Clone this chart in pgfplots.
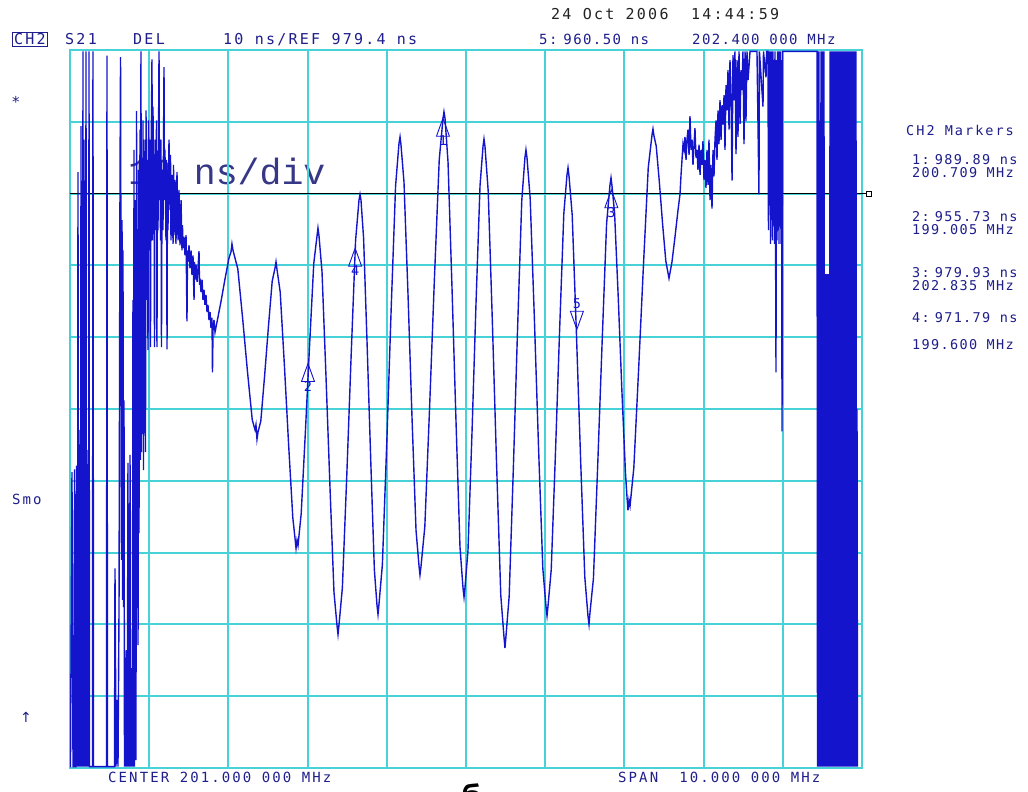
\documentclass[border=0pt]{standalone}
\usepackage{fontspec}
\usepackage{pgfplots}
\pgfplotsset{compat=1.18}
\newfontfamily\lcd[LetterSpace=15]{DejaVu Sans Mono}
\newfontfamily\lcdn[LetterSpace=10]{DejaVu Sans Mono}
\newfontfamily\bigf{Liberation Mono}
\newfontfamily\cyr{DejaVu Sans}
\definecolor{gridc}{RGB}{70,210,215}
\definecolor{trace}{RGB}{20,20,205}
\definecolor{txt}{RGB}{30,30,140}
\definecolor{bigt}{RGB}{55,55,135}
\newcommand\lcdA{\lcd\fontsize{15pt}{15pt}\selectfont}
\newcommand\lcdB{\lcd\fontsize{14pt}{14pt}\selectfont}
\newcommand\lcdC{\lcd\fontsize{13.5pt}{13.5pt}\selectfont}
\newcommand\lcdD{\lcdn\fontsize{14pt}{14pt}\selectfont}
\newcommand\lcdE{\lcdn\fontsize{13.5pt}{13.5pt}\selectfont}

% marker triangles, apex on the marker value
\pgfdeclareplotmark{mkup}{%
  \pgfpathmoveto{\pgfqpoint{0pt}{0pt}}%
  \pgfpathlineto{\pgfqpoint{6.5pt}{-18pt}}%
  \pgfpathlineto{\pgfqpoint{-6.5pt}{-18pt}}%
  \pgfpathclose\pgfusepathqstroke}
\pgfdeclareplotmark{mkdown}{%
  \pgfpathmoveto{\pgfqpoint{0pt}{0pt}}%
  \pgfpathlineto{\pgfqpoint{6.5pt}{18pt}}%
  \pgfpathlineto{\pgfqpoint{-6.5pt}{18pt}}%
  \pgfpathclose\pgfusepathqstroke}

\begin{document}
\begin{tikzpicture}
\useasboundingbox (0,0) rectangle (1028pt,792pt);
\fill[white] (0,0) rectangle (1028pt,792pt);

% big overlay text, under the trace
\node[anchor=base west, inner sep=0pt, font=\bigf\fontsize{36.5pt}{36.5pt}\selectfont, text=bigt] at (128pt,607pt) {10 ns/div};

\begin{axis}[
  at={(70pt,24pt)}, anchor=south west, scale only axis,
  width=792pt, height=718pt,
  xmin=196, xmax=206, ymin=899.4, ymax=999.4,
  xtick={196,...,206},
  ytick={899.4,909.4,919.4,929.4,939.4,949.4,959.4,969.4,979.4,989.4,999.4},
  xticklabel=\empty, yticklabel=\empty,
  major tick length=0pt,
  grid=major,
  major grid style={gridc, line width=2pt},
  axis line style={gridc, line width=2pt},
]
% reference line 979.4 ns
\addplot[black, line width=1.2pt] coordinates {(196,979.4) (206,979.4)};

% S21 group delay trace (MHz, ns)
\addplot[trace, line width=1.4pt] coordinates {
(196.000,899.6) (196.006,899.6) (196.025,940.6) (196.038,899.6) (196.051,899.6)
(196.057,941.0) (196.063,899.6)
(196.076,899.6) (196.082,941.5) (196.088,899.6) (196.095,908.9) (196.101,982.4)
(196.107,899.6) (196.114,946.5) (196.120,899.6) (196.126,943.0) (196.133,899.6)
(196.139,988.8) (196.145,899.6) (196.152,975.0) (196.158,899.6) (196.164,999.2)
(196.170,899.6) (196.177,986.9) (196.183,899.6) (196.189,944.0) (196.196,899.6)
(196.202,999.2) (196.208,899.6) (196.215,943.7) (196.221,899.6) (196.227,941.0)
(196.234,899.6) (196.240,999.2) (196.246,899.6)
(196.284,899.6) (196.290,999.2) (196.297,899.6)
(196.461,899.6) (196.467,998.6) (196.473,899.6) (196.562,899.6) (196.568,927.2)
(196.575,913.5) (196.581,899.6) (196.593,908.9) (196.606,899.6) (196.619,921.8)
(196.631,979.8) (196.638,998.4) (196.644,964.6) (196.650,928.4) (196.657,975.7)
(196.663,922.8) (196.669,971.5) (196.676,921.8) (196.682,950.6) (196.688,899.6)
(196.694,910.2) (196.700,899.6) (196.707,914.0) (196.713,915.8) (196.720,899.6)
(196.726,914.4) (196.732,941.9) (196.739,899.6) (196.745,907.5) (196.751,899.6)
(196.758,943.0) (196.764,899.6) (196.770,906.1) (196.777,913.3) (196.783,899.6)
(196.789,912.0) (196.795,964.6) (196.802,899.6) (196.808,985.5) (196.814,899.6)
(196.821,932.1) (196.827,978.5) (196.833,900.5) (196.840,990.9) (196.846,922.4)
(196.852,950.6) (196.859,916.5) (196.865,982.7) (196.871,932.1) (196.884,988.3)
(196.890,942.3) (196.896,999.2) (196.903,943.4) (196.909,981.7) (196.915,950.4)
(196.922,989.6) (196.928,940.9) (196.934,985.3) (196.941,953.4) (196.947,986.9)
(196.953,943.4) (196.960,991.0) (196.966,964.6) (196.972,984.1) (196.985,957.6)
(196.991,989.6) (196.997,971.5) (197.010,986.9) (197.016,958.0) (197.023,982.7)
(197.035,998.1) (197.042,972.9) (197.048,991.5) (197.054,978.5) (197.061,984.1)
(197.067,958.0) (197.073,986.9) (197.086,974.3) (197.092,989.6) (197.098,958.0)
(197.105,984.1) (197.111,974.3) (197.124,999.2) (197.130,978.5) (197.136,985.5)
(197.143,972.9) (197.149,986.9) (197.155,958.0) (197.162,982.7) (197.174,974.3)
(197.187,997.0) (197.193,978.5) (197.199,985.5) (197.212,972.9) (197.218,984.1)
(197.225,957.7) (197.231,982.7) (197.237,974.3) (197.250,986.9) (197.263,977.1)
(197.269,984.8) (197.275,972.9) (197.288,982.0) (197.301,972.4) (197.307,983.4)
(197.313,973.6) (197.326,981.3) (197.338,972.4) (197.351,982.4) (197.364,972.9)
(197.376,979.9) (197.389,972.2) (197.402,978.5) (197.414,971.5) (197.420,975.0)
(197.427,971.8) (197.439,973.4) (197.452,970.8) (197.465,973.6) (197.477,961.6)
(197.484,971.5) (197.490,969.9) (197.503,972.2) (197.515,969.0) (197.528,971.5)
(197.540,968.1) (197.553,970.8) (197.566,964.6) (197.572,969.9) (197.578,967.4)
(197.591,969.5) (197.604,967.1) (197.616,969.0) (197.629,971.4) (197.635,966.7)
(197.641,967.6) (197.654,965.7) (197.667,967.4) (197.679,964.6) (197.692,966.0)
(197.704,963.9) (197.717,965.3) (197.730,962.9) (197.742,963.9) (197.755,961.8)
(197.768,962.9) (197.780,960.7) (197.793,962.1) (197.799,954.5) (197.806,960.4)
(197.818,961.8) (197.831,960.1)
(197.856,961.5) (197.907,964.4) (197.957,967.5) (198.007,970.4) (198.033,971.3)
(198.045,972.4) (198.058,971.5) (198.119,968.9) (198.179,962.1) (198.240,954.7)
(198.301,947.9) (198.336,946.5) (198.348,947.2) (198.361,945.2) (198.374,946.2)
(198.409,947.7) (198.457,954.0) (198.505,960.8) (198.553,967.2) (198.588,969.0)
(198.601,969.9) (198.614,968.8) (198.654,965.7) (198.707,955.5) (198.760,944.5)
(198.813,934.3) (198.841,931.4) (198.854,930.0) (198.866,931.1) (198.879,930.4)
(198.919,934.8) (198.972,946.2) (199.025,958.3) (199.078,969.7) (199.119,973.5)
(199.131,974.6) (199.144,973.5) (199.182,968.5) (199.232,954.0) (199.283,938.4)
(199.333,923.9) (199.371,919.3) (199.384,918.0) (199.396,919.3) (199.439,924.5)
(199.495,940.2) (199.551,957.2) (199.606,972.9) (199.649,978.5) (199.662,979.3)
(199.674,978.5) (199.707,973.2) (199.752,958.2) (199.798,942.0) (199.843,927.0)
(199.876,922.1) (199.889,920.8) (199.901,922.2) (199.944,927.7) (200.000,944.8)
(200.055,963.3) (200.111,980.5) (200.154,986.4) (200.167,987.3) (200.179,986.2)
(200.217,981.0) (200.268,965.3) (200.318,948.3) (200.369,932.5) (200.407,927.5)
(200.419,926.3) (200.432,927.5) (200.480,933.0) (200.540,949.5) (200.601,967.5)
(200.662,984.1) (200.710,989.9) (200.722,990.8) (200.735,989.9) (200.773,983.8)
(200.823,966.4) (200.874,947.6) (200.924,930.2) (200.962,924.5) (200.975,923.2)
(200.987,924.5) (201.025,929.7) (201.076,946.2) (201.126,964.0) (201.177,980.5)
(201.215,986.0) (201.227,987.0) (201.240,985.9) (201.280,979.8) (201.333,961.5)
(201.386,941.7) (201.439,923.5) (201.480,917.6) (201.492,916.1) (201.505,917.8)
(201.545,923.3) (201.598,941.2) (201.651,960.5) (201.704,978.4) (201.744,984.4)
(201.757,985.5) (201.770,984.4) (201.810,978.8) (201.863,962.1) (201.916,944.0)
(201.970,927.2) (202.010,921.9) (202.023,920.6) (202.035,921.9) (202.076,927.0)
(202.129,943.1) (202.182,960.4) (202.235,976.6) (202.275,982.0) (202.288,983.0)
(202.301,981.8) (202.341,976.4) (202.394,960.0) (202.447,942.4) (202.500,926.0)
(202.540,920.6) (202.553,919.4) (202.566,921.1) (202.609,925.8) (202.664,941.9)
(202.720,959.1) (202.775,975.2) (202.818,980.6) (202.831,981.6) (202.843,980.5)
(202.876,976.7) (202.922,965.0) (202.967,952.3) (203.013,940.6) (203.033,937.1)
(203.045,935.3) (203.058,936.7) (203.071,935.9) (203.119,941.2) (203.179,954.8)
(203.240,969.3) (203.301,983.0) (203.349,987.6) (203.361,988.4) (203.374,987.4)
(203.402,986.0) (203.442,980.9) (203.482,975.2) (203.523,970.0) (203.563,967.6)
(203.601,969.9) (203.639,973.4) (203.677,977.1) (203.702,979.3) (203.715,982.0)
(203.740,986.3)
(203.753,985.5) (203.765,987.3) (203.778,984.1) (203.790,986.9) (203.803,988.3)
(203.816,984.8) (203.828,990.2) (203.841,985.5) (203.854,986.9) (203.866,983.4)
(203.879,986.2) (203.891,988.5) (203.904,984.4) (203.917,985.5) (203.929,982.7)
(203.942,986.2) (203.955,982.0) (203.967,985.5) (203.980,983.4) (203.992,986.7)
(204.005,981.3) (204.018,984.1) (204.030,980.2) (204.043,985.5) (204.056,980.6)
(204.068,986.9) (204.081,978.5) (204.093,983.4) (204.106,977.3) (204.119,985.5)
(204.131,981.8) (204.144,986.9) (204.157,989.6) (204.169,984.1) (204.182,991.0)
(204.194,986.3) (204.207,992.4) (204.220,986.9) (204.232,991.7) (204.245,989.0)
(204.258,993.1) (204.270,985.5) (204.283,994.5) (204.295,991.0) (204.308,996.6)
(204.321,988.3) (204.333,998.0) (204.346,993.8) (204.359,981.2) (204.371,998.7)
(204.384,992.4) (204.396,999.2) (204.409,984.9) (204.422,998.0) (204.434,987.3)
(204.447,999.2) (204.460,989.1) (204.472,996.6) (204.485,993.8) (204.497,999.2)
(204.510,986.3) (204.523,999.2) (204.535,989.5) (204.548,999.2) (204.561,995.2)
(204.586,999.2) (204.674,999.2) (204.699,979.3) (204.705,999.2) (204.750,991.5)
(204.756,999.2) (204.788,995.6) (204.795,999.2)
(204.813,999.2) (204.819,974.3) (204.826,999.2) (204.832,978.5) (204.838,999.2)
(204.845,972.4) (204.851,999.2) (204.857,975.7) (204.864,999.2) (204.870,972.9)
(204.876,999.2) (204.883,977.1) (204.889,998.0) (204.895,972.4) (204.901,999.2)
(204.914,954.5) (204.920,998.0) (204.927,972.9) (204.933,999.2) (204.939,974.3)
(204.946,999.2) (204.952,972.4) (204.958,999.2) (204.965,978.5) (204.971,999.2)
(204.977,972.4) (204.984,998.0) (204.990,946.3) (204.996,999.2) (205.003,999.2)
(205.432,999.2) (205.438,899.6) (205.444,999.2) (205.451,899.6) (205.457,999.2)
(205.463,899.6) (205.470,968.2) (205.476,899.6) (205.482,999.2) (205.488,899.6)
(205.495,999.2) (205.501,899.6) (205.507,999.2) (205.514,899.6) (205.520,999.2)
(205.526,899.6) (205.533,968.2) (205.539,899.6) (205.545,968.2) (205.552,899.6)
(205.558,968.2) (205.564,899.6) (205.571,968.2) (205.577,899.6) (205.583,968.2)
(205.590,899.6) (205.596,999.2) (205.602,899.6) (205.609,999.2) (205.615,899.6)
(205.621,999.2) (205.628,899.6) (205.634,999.2) (205.640,899.6) (205.646,999.2)
(205.653,899.6) (205.659,999.2) (205.665,899.6) (205.672,999.2) (205.678,899.6)
(205.684,999.2) (205.690,899.6) (205.697,999.2) (205.703,899.6) (205.709,999.2)
(205.716,899.6) (205.722,999.2) (205.728,899.6) (205.735,999.2) (205.741,899.6)
(205.747,999.2) (205.754,899.6) (205.760,999.2) (205.766,899.6) (205.773,999.2)
(205.779,899.6) (205.785,999.2) (205.791,899.6) (205.798,999.2) (205.804,899.6)
(205.810,999.2) (205.817,899.6) (205.823,999.2) (205.829,899.6) (205.836,999.2)
(205.842,899.6) (205.848,999.2) (205.854,899.6) (205.861,999.2) (205.867,899.6)
(205.874,999.2) (205.880,899.6) (205.886,999.2) (205.892,899.6) (205.899,999.2)
(205.905,899.6) (205.911,999.2) (205.918,899.6) (205.924,999.2) (205.930,899.6)
(205.937,949.4) (205.943,899.6)
};

% markers 1-4 and 5
\addplot[trace, line width=0.9pt, only marks, mark=mkup,
  point meta=explicit symbolic, nodes near coords,
  every node near coord/.style={anchor=north, yshift=-17pt, inner sep=0pt,
    font=\lcdC, text=trace}]
  coordinates {(200.709,989.89)[1] (199.005,955.73)[2] (202.835,979.93)[3] (199.600,971.79)[4]};
\addplot[trace, line width=0.9pt, only marks, mark=mkdown,
  point meta=explicit symbolic, nodes near coords,
  every node near coord/.style={anchor=south, yshift=20pt, inner sep=0pt,
    font=\lcdC, text=trace}]
  coordinates {(202.400,960.50)[5]};
\end{axis}

% reference line end symbol
\draw[black, line width=1pt] (862pt,598pt) -- (867pt,598pt);
\draw[black, line width=0.8pt] (866pt,595.5pt) rectangle (871pt,600.5pt);

\begin{scope}[every node/.style={inner sep=0pt, anchor=base west, text=txt}]
\node[font=\lcdA, text={rgb,255:red,35;green,35;blue,35}] at (551pt,772pt) {24 Oct 2006~ 14:44:59};
\node[font=\lcdA, draw=txt, line width=1.3pt, inner xsep=1.5pt, inner ysep=1.5pt] at (12pt,747pt) {CH2};
\node[font=\lcdA] at (65pt,747pt) {S21};
\node[font=\lcdA] at (133pt,747pt) {DEL};
\node[font=\lcdA] at (223pt,747pt) {10 ns/REF 979.4 ns};
\node[font=\lcdD] at (539pt,747pt) {5:\hspace{6pt}960.50 ns};
\node[font=\lcdD] at (692pt,747pt) {202.400 000 MHz};
\node[font=\lcdA, anchor=center] at (16pt,690pt) {*};
\node[font=\lcdB] at (12pt,287pt) {Smo};
\node[font=\cyr\fontsize{14pt}{14pt}\selectfont, anchor=center] at (26pt,75pt) {↑};
\node[font=\lcdB] at (108pt,9pt) {CENTER 201.000 000 MHz};
\node[font=\lcdB] at (618pt,9pt) {SPAN~ 10.000 000 MHz};
\node[font=\lcdC] at (906pt,656pt) {CH2 Markers};
\node[font=\lcdE] at (912pt,627pt) {1:\hspace{5pt}989.89 ns};
\node[font=\lcdE] at (912pt,614pt) {200.709 MHz};
\node[font=\lcdE] at (912pt,570pt) {2:\hspace{5pt}955.73 ns};
\node[font=\lcdE] at (912pt,557pt) {199.005 MHz};
\node[font=\lcdE] at (912pt,514pt) {3:\hspace{5pt}979.93 ns};
\node[font=\lcdE] at (912pt,501pt) {202.835 MHz};
\node[font=\lcdE] at (912pt,469pt) {4:\hspace{5pt}971.79 ns};
\node[font=\lcdE] at (912pt,442pt) {199.600 MHz};
\end{scope}
\node[font=\cyr\bfseries\fontsize{30pt}{30pt}\selectfont, text=black, anchor=base, inner sep=0pt] at (472pt,-16pt) {б};
\end{tikzpicture}
\end{document}
